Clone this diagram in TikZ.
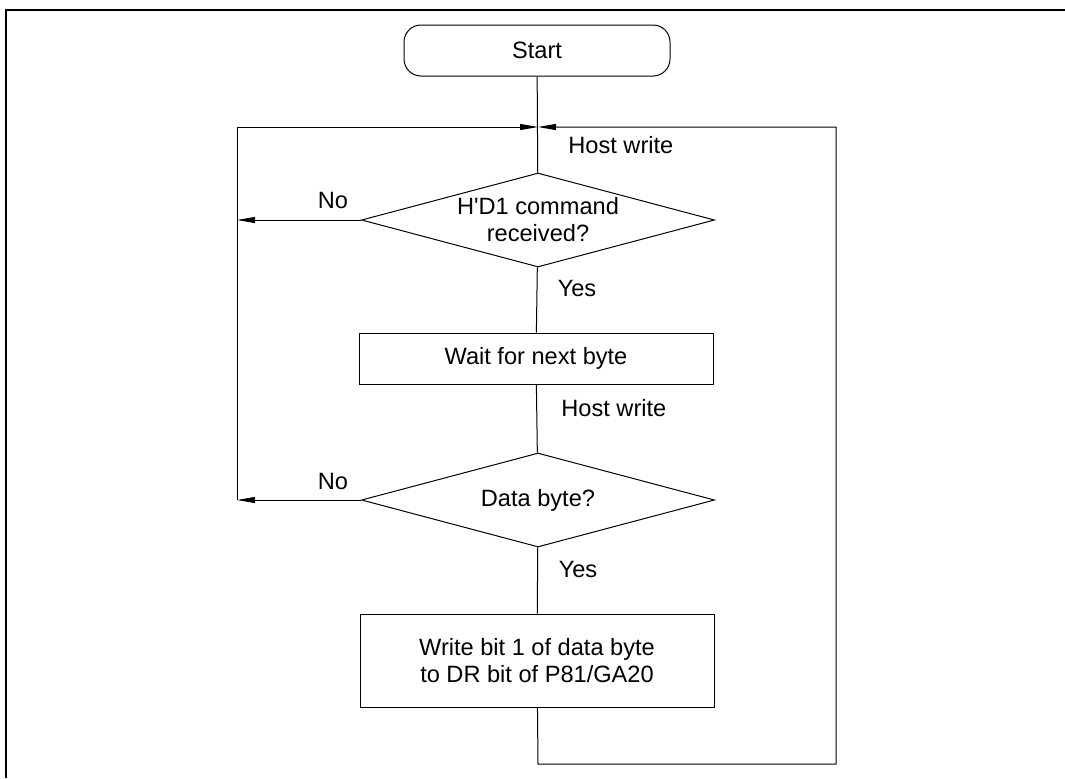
\documentclass[tikz,border=0pt]{standalone}
\usepackage{fontspec}
\setmainfont{Liberation Sans}
\usepackage{tikz}
\usetikzlibrary{arrows.meta,shapes.geometric,positioning}

\tikzset{
  flow/.style={draw, line width=0.5pt, align=center, inner sep=0pt,
    font=\fontsize{11.8}{13.5}\selectfont},
  terminal/.style={flow, rounded corners=8.5pt, minimum width=133pt, minimum height=25.5pt},
  process/.style={flow, rectangle, minimum width=177pt},
  decision/.style={flow, diamond, aspect=3.75, minimum width=176.5pt, minimum height=47pt},
  lbl/.style={font=\fontsize{11.8}{13.5}\selectfont, inner sep=0pt},
  conn/.style={line width=0.5pt},
  arr/.style={conn, -{Triangle[length=9pt,width=3pt]}}
}

\begin{document}
\begin{tikzpicture}[x=0.5pt, y=-0.5pt]
    \useasboundingbox (0,0) rectangle (1065,778);
    % frame
    \draw[line width=1pt] (6,778) -- (6,10) -- (1065,10);

    % nodes
    \node[terminal] (start) at (537,50.5) {Start};
    \node[decision] (chkcmd) at (538,220) {H\textquotesingle D1 command\\received?};
    \node[process, minimum height=25.5pt] (waitbyte) at (536,358.5) {Wait for next byte};
    \node[decision] (chkdata) at (538,500) {Data byte?};
    \node[process, minimum height=46.5pt] (writebit) at (537,660.5)
        {Write bit 1 of data byte\\to DR bit of P81/GA20};

    % labels
    \node[lbl, anchor=west] (hostA) at (568,145) {Host write};
    \node[lbl, anchor=west] (hostB) at (561,408) {Host write};
    \node[lbl] (noA) at (333,200) {No};
    \node[lbl] (noB) at (333,481) {No};
    \node[lbl] (yesA) at (577,288) {Yes};
    \node[lbl] (yesB) at (578,569) {Yes};

    % loop points
    \coordinate (join) at (538,127);
    \coordinate (loopL) at (237,500);
    \coordinate (loopB) at (538,764);
    \coordinate (loopR) at (836,127);

    % connectors
    \draw[conn] (start) -- (chkcmd);
    \draw[conn] (chkcmd) -- (waitbyte);
    \draw[conn] (waitbyte) -- (chkdata);
    \draw[conn] (chkdata) -- (writebit);
    \draw[arr] (chkcmd.west) -- (chkcmd.west -| loopL);
    \draw[arr] (chkdata.west) -- (loopL);
    \draw[arr] (loopL) |- (join);
    \draw[arr] (writebit) -- (loopB) -| (loopR) -- (join);
\end{tikzpicture}
\end{document}
